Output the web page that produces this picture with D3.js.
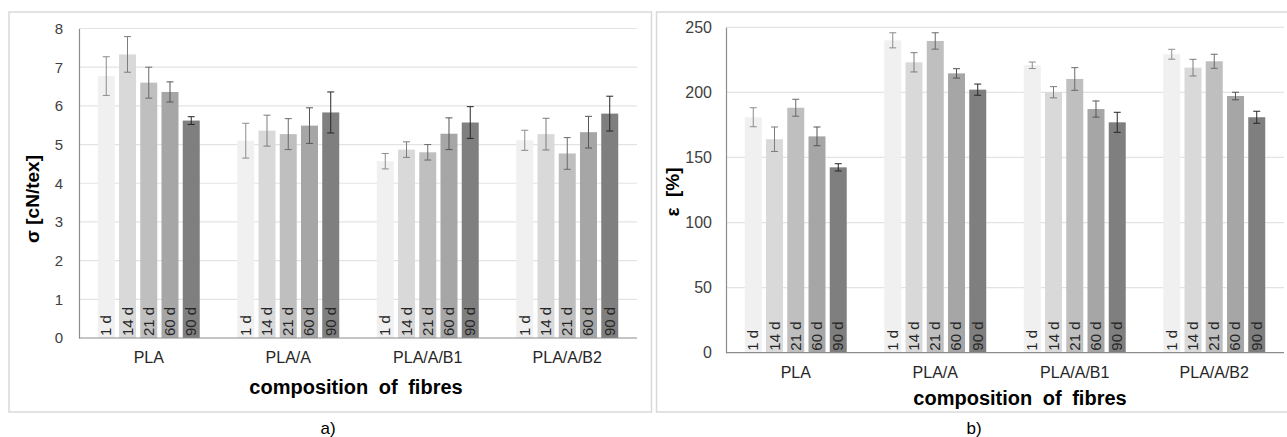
<!DOCTYPE html>
<html lang="en">
<head>
<meta charset="UTF-8">
<script src="https://cdnjs.cloudflare.com/ajax/libs/d3/7.8.5/d3.min.js"></script>
<title>sigma epsilon</title>
<style>
  body { margin: 0; background: #fff; }
  text { font-family: "Liberation Sans", Arial, sans-serif; }
</style>
</head>
<body>
<svg id="chart" width="1287" height="437"></svg>
<script>
    // data
    const categories = ['PLA', 'PLA/A', 'PLA/A/B1', 'PLA/A/B2']
    const days = ['1 d', '14 d', '21 d', '60 d', '90 d']
    const colors = ['#f0f0f0', '#d9d9d9', '#bfbfbf', '#a6a6a6', '#7f7f7f']
    const errColors = ['#8c8c8c', '#7c7c7c', '#6a6a6a', '#555555', '#262626']

    // sigma [cN/tex], rows = categories, columns = days
    const sigma = [
        [6.77, 7.33, 6.60, 6.36, 5.62],
        [5.10, 5.36, 5.27, 5.49, 5.83],
        [4.57, 4.87, 4.80, 5.28, 5.57],
        [5.11, 5.27, 4.77, 5.32, 5.80]
    ]
    const sigmaErr = [
        [0.50, 0.46, 0.40, 0.26, 0.10],
        [0.45, 0.40, 0.40, 0.46, 0.53],
        [0.20, 0.20, 0.20, 0.41, 0.41],
        [0.26, 0.41, 0.41, 0.41, 0.45]
    ]
    const sigmaTicks = [0, 1, 2, 3, 4, 5, 6, 7, 8]

    // epsilon [%]
    const eps = [
        [180.9, 164.0, 188.2, 166.2, 142.4],
        [240.0, 223.1, 239.5, 214.6, 202.1],
        [220.8, 200.1, 210.3, 187.2, 177.0],
        [229.3, 219.0, 223.9, 197.2, 180.9]
    ]
    const epsErr = [
        [7.3, 9.4, 6.5, 7.2, 2.8],
        [5.8, 7.4, 6.3, 3.6, 4.3],
        [2.5, 4.3, 8.7, 6.2, 7.7],
        [3.8, 6.4, 5.4, 2.9, 4.6]
    ]
    const epsTicks = [0, 50, 100, 150, 200, 250]

    const svg = d3.select('#chart')

    let drawPanel = (opt) => {
        const g = svg.append('g')

        // frame around the panel
        g.append('rect')
            .attr('x', opt.frame[0]).attr('y', opt.frame[1])
            .attr('width', opt.frame[2]).attr('height', opt.frame[3])
            .attr('fill', 'none').attr('stroke', '#d9d9d9').attr('stroke-width', 1.5)

        const x0 = d3.scaleBand().domain(categories)
            .range([opt.left, opt.right]).paddingInner(0.269).paddingOuter(0.1345)
        const x1 = d3.scaleBand().domain(days)
            .range([0, x0.bandwidth()]).paddingInner(0.2).paddingOuter(0)
        const y = d3.scaleLinear().domain([0, opt.max]).range([opt.bottom, opt.top])

        // grid
        g.selectAll('.grid').data(opt.ticks.filter(t => t > 0)).enter()
            .append('line')
            .attr('x1', opt.left).attr('x2', opt.right)
            .attr('y1', d => y(d)).attr('y2', d => y(d))
            .attr('stroke', '#e3e3e3').attr('stroke-width', 1.2)

        // y axis
        const yAxis = d3.axisLeft(y).tickValues(opt.ticks).tickSize(0).tickPadding(opt.tickPad)
        const ya = g.append('g').attr('transform', 'translate(' + opt.left + ',0)').call(yAxis)
        ya.select('.domain').attr('stroke', '#8c8c8c').attr('stroke-width', 1.2)
        ya.selectAll('text').attr('font-size', opt.tickFont).attr('fill', '#404040')
            .style('font-family', '"Liberation Sans", Arial, sans-serif')

        // bars
        const groups = g.selectAll('.grp').data(categories).enter().append('g')
            .attr('transform', d => 'translate(' + x0(d) + ',0)')

        groups.each(function (cat, ci) {
            const gg = d3.select(this)
            days.forEach((dd, si) => {
                const v = opt.values[ci][si]
                const e = opt.errs[ci][si]
                const bx = x1(dd)
                const cx = bx + x1.bandwidth() / 2
                gg.append('rect')
                    .attr('x', bx).attr('y', y(v))
                    .attr('width', x1.bandwidth()).attr('height', y(0) - y(v))
                    .attr('fill', colors[si])
                // error bar
                const ec = errColors[si]
                gg.append('path')
                    .attr('d', 'M' + cx + ',' + y(v + e) + 'V' + y(v - e)
                        + 'M' + (cx - 3.5) + ',' + y(v + e) + 'h7'
                        + 'M' + (cx - 3.5) + ',' + y(v - e) + 'h7')
                    .attr('fill', 'none').attr('stroke', ec).attr('stroke-width', 1)
                // label inside bar
                gg.append('g')
                    .attr('transform', 'translate(' + (cx + 5) + ',' + (y(0) - 2) + ')')
                    .append('text')
                    .attr('transform', 'rotate(-90)')
                    .attr('font-size', 15).attr('fill', '#262626')
                    .text(dd)
            })
        })

        // x axis line
        g.append('line')
            .attr('x1', opt.left).attr('x2', opt.right)
            .attr('y1', y(0)).attr('y2', y(0))
            .attr('stroke', '#8c8c8c').attr('stroke-width', 1.2)

        // category labels
        g.selectAll('.cat').data(categories).enter().append('text')
            .attr('x', d => x0(d) + x0.bandwidth() / 2)
            .attr('y', opt.catY)
            .attr('text-anchor', 'middle')
            .attr('font-size', 16).attr('fill', '#262626')
            .text(d => d)

        // axis titles
        g.append('text')
            .attr('x', opt.xTitle[0]).attr('y', opt.xTitle[1])
            .attr('text-anchor', 'middle')
            .attr('font-size', 20).attr('font-weight', 'bold')
            .attr('word-spacing', 5).attr('fill', '#000')
            .text('composition of fibres')

        g.append('text')
            .attr('transform', 'translate(' + opt.yTitle[0] + ',' + opt.yTitle[1] + ') rotate(-90)')
            .attr('text-anchor', 'middle')
            .attr('font-size', 19).attr('font-weight', 'bold')
            .attr('fill', '#000')
            .style('white-space', 'pre')
            .text(opt.yLabel)

        // panel letter
        svg.append('text')
            .attr('x', opt.letter[0]).attr('y', opt.letter[1])
            .attr('text-anchor', 'middle').attr('font-size', 17).attr('fill', '#000')
            .text(opt.letterText)
    }

    drawPanel({
        frame: [9, 12, 642.5, 400],
        left: 79, right: 637, top: 28.5, bottom: 338,
        max: 8, ticks: sigmaTicks, tickPad: 16, tickFont: 15,
        values: sigma, errs: sigmaErr,
        catY: 363, xTitle: [356, 394], yTitle: [39, 199],
        yLabel: 'σ [cN/tex]',
        letter: [328, 434], letterText: 'a)'
    })

    drawPanel({
        frame: [656.5, 12, 640, 400],
        left: 726, right: 1284, top: 27.3, bottom: 352.7,
        max: 250, ticks: epsTicks, tickPad: 14, tickFont: 16,
        values: eps, errs: epsErr,
        catY: 378, xTitle: [1020, 405], yTitle: [679, 192],
        yLabel: 'ε  [%]',
        letter: [974, 434], letterText: 'b)'
    })
</script>
</body>
</html>
